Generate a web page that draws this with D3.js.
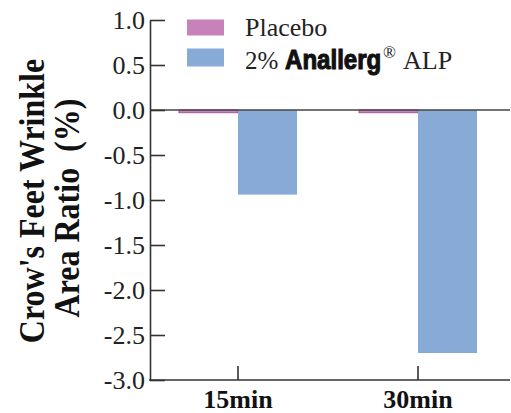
<!DOCTYPE html>
<html><head><meta charset="utf-8">
<script src="https://cdn.jsdelivr.net/npm/d3@7"></script>
<style>body{margin:0;background:#fff}svg{display:block}</style>
</head><body><svg id="c" width="511" height="413"></svg>
<script>
const categories = ["15min", "30min"];
const seriesNames = ["Placebo", "Anallerg"];
const placeboValues = [-0.03, -0.03];
const anallergValues = [-0.94, -2.70];
const yTicks = [1.0, 0.5, 0.0, -0.5, -1.0, -1.5, -2.0, -2.5, -3.0];
const colors = {Placebo: "#c981ba", Anallerg: "#87aad6"};

const svg = d3.select("#c");
const serif = "'Liberation Serif','Times New Roman',serif";
const y = d3.scaleLinear().domain([-3, 1]).range([380, 20]);
const x0 = d3.scaleBand().domain(categories).range([148, 508]);
const x1 = d3.scaleBand().domain(seriesNames).range([31, 149]);

const data = categories.map((c, i) => ({cat: c, vals: [
  {s: "Placebo", v: placeboValues[i]}, {s: "Anallerg", v: anallergValues[i]}]}));

// bars
const g = svg.append("g");
data.forEach(d => {
  d.vals.forEach(e => {
    g.append("rect")
      .attr("x", x0(d.cat) + x1(e.s))
      .attr("width", x1.bandwidth())
      .attr("y", y(Math.max(0, e.v)))
      .attr("height", Math.abs(y(e.v) - y(0)))
      .attr("fill", colors[e.s])
      .attr("stroke", e.s === "Placebo" ? "#a8559a" : "none")
      .attr("stroke-width", 1);
  });
});

// zero line
svg.append("line").attr("x1", 150).attr("x2", 510).attr("y1", y(0)).attr("y2", y(0))
  .attr("stroke", "#444").attr("stroke-width", 1.3);

// y axis
const ya = svg.append("g").attr("transform", "translate(150,0)")
  .call(d3.axisLeft(y).tickValues(yTicks).tickFormat(d3.format(".1f")).tickSizeInner(-15).tickSizeOuter(0).tickPadding(5));
ya.select(".domain").attr("stroke", "#333").attr("stroke-width", 1.6);
ya.selectAll(".tick line").attr("stroke", "#333").attr("stroke-width", 1.6);
ya.selectAll(".tick text").attr("font-family", serif).attr("font-size", 26).attr("fill", "#222")
  .text(d => d3.format(".1f")(d).replace("−", "-"));

// x axis
const xa = svg.append("g").attr("transform", "translate(0,380)")
  .call(d3.axisBottom(x0).tickSizeInner(-14).tickSizeOuter(0).tickPadding(10));
xa.select(".domain").remove();
svg.append("line").attr("x1", 149).attr("x2", 510).attr("y1", 380).attr("y2", 380)
  .attr("stroke", "#333").attr("stroke-width", 1.6);
xa.selectAll(".tick line").attr("stroke", "#333").attr("stroke-width", 1.6);
xa.selectAll(".tick text").attr("font-family", serif).attr("font-size", 26).attr("font-weight", "bold")
  .attr("fill", "#111").attr("dy", null).attr("y", 28);

// y title
svg.append("text").attr("transform", "translate(44,201) rotate(-90) scale(1,1.1)")
  .attr("text-anchor", "middle").attr("font-family", serif).attr("font-weight", "bold")
  .attr("font-size", 32).attr("fill", "#111").text("Crow's Feet Wrinkle");
svg.append("text").attr("transform", "translate(79,208) rotate(-90) scale(1,1.1)")
  .attr("text-anchor", "middle").attr("font-family", serif).attr("font-weight", "bold")
  .attr("font-size", 32).attr("fill", "#111").attr("xml:space", "preserve").text("Area Ratio  (%)");

// legend
const lg = svg.append("g");
lg.append("rect").attr("x", 187).attr("y", 19.5).attr("width", 37).attr("height", 16).attr("fill", colors.Placebo);
lg.append("rect").attr("x", 187).attr("y", 48.5).attr("width", 37).attr("height", 18).attr("fill", colors.Anallerg);
lg.append("text").attr("x", 245).attr("y", 36).attr("font-family", serif).attr("font-size", 26).attr("fill", "#222").text(seriesNames[0]);
lg.append("text").attr("x", 245).attr("y", 69).attr("font-family", serif).attr("font-size", 25).attr("fill", "#222").text("2%");
lg.append("text").attr("transform", "translate(285,69) scale(0.86,1)")
  .attr("font-family", "'Liberation Sans',Arial,sans-serif").attr("font-weight", "bold")
  .attr("font-size", 28).attr("stroke", "#111").attr("stroke-width", 1.1).attr("fill", "#111").text(seriesNames[1]);
lg.append("text").attr("x", 383).attr("y", 58).attr("font-family", serif).attr("font-size", 17).attr("fill", "#222").text("®");
lg.append("text").attr("x", 403).attr("y", 69).attr("font-family", serif).attr("font-size", 26).attr("fill", "#222").text("ALP");
</script></body></html>
